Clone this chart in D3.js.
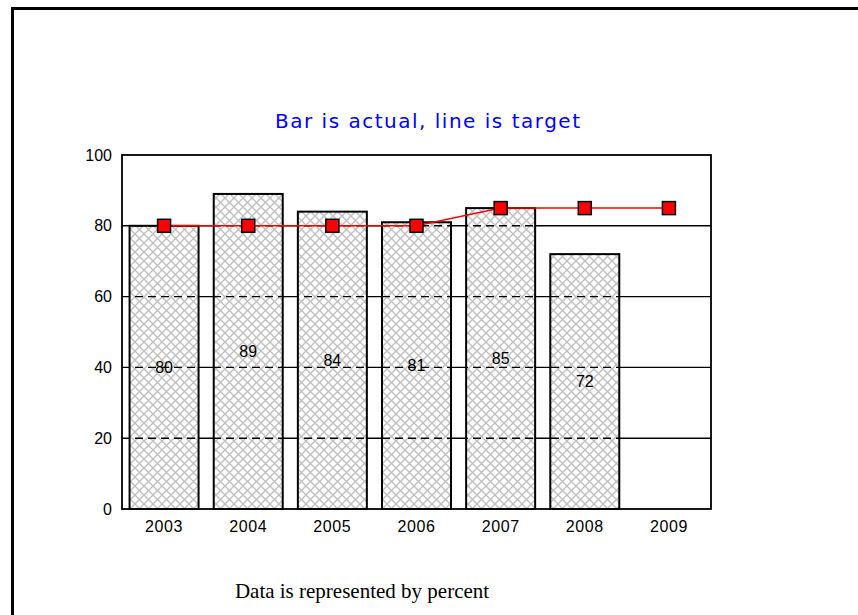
<!DOCTYPE html>
<html>
<head>
<meta charset="utf-8">
<script src="https://cdn.jsdelivr.net/npm/d3@7"></script>
<style>
  html, body { margin: 0; padding: 0; background: #fff; }
  svg { display: block; }
</style>
</head>
<body>
<div class="canvas"></div>
<script>
// chart values
const years = ["2003", "2004", "2005", "2006", "2007", "2008", "2009"]
const actual = [80, 89, 84, 81, 85, 72, null]
const target = [80, 80, 80, 80, 85, 85, 85]
const yTicks = [0, 20, 40, 60, 80, 100]

const W = 858, H = 615
const plot = { left: 122, right: 711, top: 155, bottom: 509 }

const svg = d3
  .select(".canvas")
  .append("svg")
  .attr("width", W)
  .attr("height", H)

// hatch pattern for the bars
const defs = svg.append("defs")
const pat = defs
  .append("pattern")
  .attr("id", "hatch")
  .attr("patternUnits", "userSpaceOnUse")
  .attr("width", 9)
  .attr("height", 9)
pat.append("rect").attr("width", 9).attr("height", 9).attr("fill", "#fff")
pat
  .append("path")
  .attr("d", "M0,0L9,9M9,0L0,9")
  .attr("stroke", "#c0c0c0")
  .attr("stroke-width", 1.4)

// outer frame (left + top only)
svg
  .append("path")
  .attr("d", `M12.5,${H}V8.5H${W}`)
  .attr("fill", "none")
  .attr("stroke", "#000")
  .attr("stroke-width", 3)

let x = d3
  .scaleBand()
  .domain(years)
  .range([plot.left, plot.right])
  .paddingInner(0.18)
  .paddingOuter(0.09)

let y = d3.scaleLinear().domain([0, 100]).range([plot.bottom, plot.top])

const g = svg.append("g")
const gridVals = yTicks.filter(d => d > 0 && d < 100)

// solid grid lines
g.selectAll("line.grid")
  .data(gridVals)
  .enter()
  .append("line")
  .attr("class", "grid")
  .attr("x1", plot.left)
  .attr("x2", plot.right)
  .attr("y1", d => y(d))
  .attr("y2", d => y(d))
  .attr("stroke", "#000")
  .attr("stroke-width", 1.4)

// bars
const barData = years.map((yr, i) => ({ yr, v: actual[i] })).filter(d => d.v != null)
g.selectAll("rect.bar")
  .data(barData)
  .enter()
  .append("rect")
  .attr("class", "bar")
  .attr("x", d => x(d.yr))
  .attr("width", x.bandwidth())
  .attr("y", d => y(d.v))
  .attr("height", d => y(0) - y(d.v))
  .attr("fill", "url(#hatch)")

// bar labels at half height
g.selectAll("text.val")
  .data(barData)
  .enter()
  .append("text")
  .attr("class", "val")
  .attr("x", d => x(d.yr) + x.bandwidth() / 2)
  .attr("y", d => y(d.v / 2))
  .attr("dy", "0.35em")
  .attr("text-anchor", "middle")
  .attr("font-family", "Arial, 'Liberation Sans', sans-serif")
  .attr("font-size", 16)
  .attr("fill", "#000")
  .text(d => d.v)

// dashed grid lines seen through the bars
const clip = defs.append("clipPath").attr("id", "barclip")
clip
  .selectAll("rect")
  .data(barData)
  .enter()
  .append("rect")
  .attr("x", d => x(d.yr))
  .attr("width", x.bandwidth())
  .attr("y", d => y(d.v))
  .attr("height", d => y(0) - y(d.v))

g.append("g")
  .attr("clip-path", "url(#barclip)")
  .selectAll("line")
  .data(gridVals)
  .enter()
  .append("line")
  .attr("x1", plot.left)
  .attr("x2", plot.right)
  .attr("y1", d => y(d))
  .attr("y2", d => y(d))
  .attr("stroke", "#000")
  .attr("stroke-width", 1.4)
  .attr("stroke-dasharray", "8,5")

// bar outlines
g.selectAll("rect.barline")
  .data(barData)
  .enter()
  .append("rect")
  .attr("class", "barline")
  .attr("x", d => x(d.yr))
  .attr("width", x.bandwidth())
  .attr("y", d => y(d.v))
  .attr("height", d => y(0) - y(d.v))
  .attr("fill", "none")
  .attr("stroke", "#000")
  .attr("stroke-width", 2)

// plot frame
g.append("rect")
  .attr("x", plot.left)
  .attr("y", plot.top)
  .attr("width", plot.right - plot.left)
  .attr("height", plot.bottom - plot.top)
  .attr("fill", "none")
  .attr("stroke", "#000")
  .attr("stroke-width", 1.8)

// y axis labels
const yAxis = d3.axisLeft(y).tickValues(yTicks).tickSize(0).tickPadding(10)
const ya = g.append("g").attr("transform", `translate(${plot.left},0)`).call(yAxis)
ya.select(".domain").remove()
ya.selectAll("text")
  .attr("font-family", "Arial, 'Liberation Sans', sans-serif")
  .attr("font-size", 16)
  .attr("fill", "#000")

// x axis labels
const xAxis = d3.axisBottom(x).tickSize(0).tickPadding(12)
const xa = g.append("g").attr("transform", `translate(0,${plot.bottom})`).call(xAxis)
xa.select(".domain").remove()
xa.selectAll("text")
  .attr("font-family", "Arial, 'Liberation Sans', sans-serif")
  .attr("font-size", 16)
  .attr("letter-spacing", 0.6)
  .attr("fill", "#000")

// target line
const cx = d => x(d) + x.bandwidth() / 2
const tData = years.map((yr, i) => ({ yr, v: target[i] }))
g.append("path")
  .datum(tData)
  .attr("d", d3.line().x(d => cx(d.yr)).y(d => y(d.v)))
  .attr("fill", "none")
  .attr("stroke", "#ff0000")
  .attr("stroke-width", 1.5)

g.selectAll("rect.mk")
  .data(tData)
  .enter()
  .append("rect")
  .attr("class", "mk")
  .attr("x", d => cx(d.yr) - 6.5)
  .attr("y", d => y(d.v) - 6.5)
  .attr("width", 13)
  .attr("height", 13)
  .attr("fill", "#ff0000")
  .attr("stroke", "#000")
  .attr("stroke-width", 1.5)

// title
svg.append("text")
  .attr("x", 275)
  .attr("y", 128)
  .attr("textLength", 305)
  .attr("lengthAdjust", "spacing")
  .attr("font-family", "'DejaVu Sans', Verdana, sans-serif")
  .attr("font-size", 20)
  .attr("fill", "#0000ff")
  .text("Bar is actual, line is target")

// footer
svg.append("text")
  .attr("x", 362)
  .attr("y", 598)
  .attr("text-anchor", "middle")
  .attr("font-family", "'Times New Roman', 'Liberation Serif', serif")
  .attr("font-size", 21)
  .attr("fill", "#000")
  .text("Data is represented by percent")
</script>
</body>
</html>
